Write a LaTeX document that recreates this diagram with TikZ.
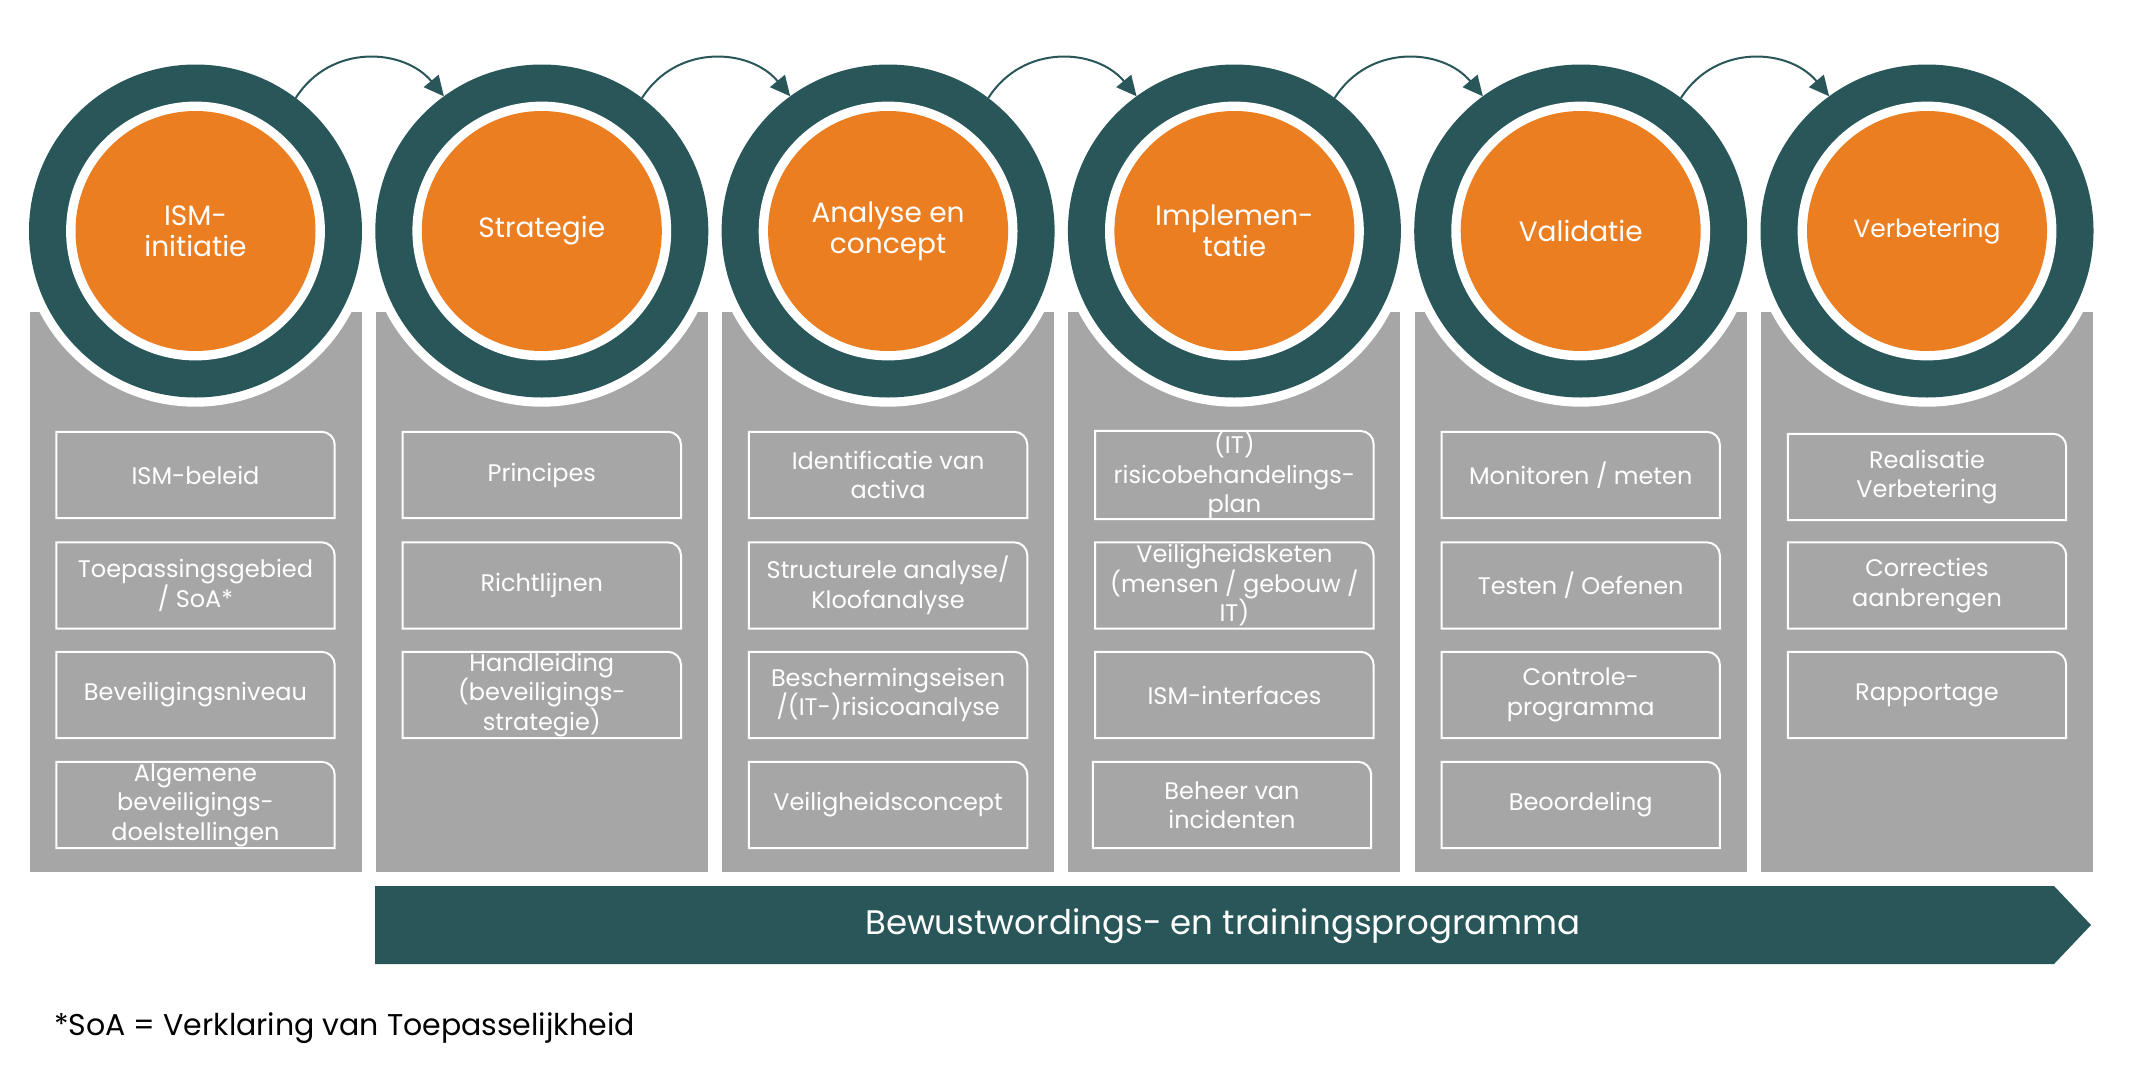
\documentclass[tikz,border=0pt]{standalone}
\usepackage{fontspec}
\setmainfont{Poppins}
\usetikzlibrary{arrows.meta}
\definecolor{dteal}{HTML}{285659}
\definecolor{orng}{HTML}{EC7E22}
\definecolor{gry}{HTML}{A6A6A6}
\tikzset{
 colbg/.style={fill=gry},
 ring/.style={circle, fill=dteal, minimum size=333pt, inner sep=0pt, outer sep=0pt},
 core/.style={circle, fill=orng, minimum size=240pt, inner sep=0pt, text=white, align=center, font=\fontsize{28}{31}\selectfont},
 boxtxt/.style={minimum width=278pt, minimum height=86pt, inner sep=0pt, text=white, align=center, font=\fontsize{24}{29.5}\selectfont},
 boxline/.style={draw=white, line width=2pt},
 flow/.style={draw=dteal, line width=2pt, -{Triangle[length=20pt,width=19pt]}},
}
\newcommand\mybox[4]{%
 \node[boxtxt] (#1) at (#2,#3) {#4};
 \draw[boxline] (#1.south west) -- (#1.north west) -- ([xshift=-13pt]#1.north east) arc[start angle=90,end angle=0,radius=13pt] -- (#1.south east) -- cycle;}
\begin{document}
\begin{tikzpicture}[x=1pt,y=-1pt]
\useasboundingbox (0,0) rectangle (2132,1068);
% gray columns
\foreach \cx in {195.5,541.8,888.1,1234.4,1580.7,1927}{
  \fill[colbg] (\cx-166,311.7) rectangle (\cx+166,871.7);
  \fill[white] (\cx,231) circle[radius=175.7pt];
}
% rings
\node[ring] (r1) at (195.5,231) {};
\node[ring] (r2) at (541.8,231) {};
\node[ring] (r3) at (888.1,231) {};
\node[ring] (r4) at (1234.4,231) {};
\node[ring] (r5) at (1580.7,231) {};
\node[ring] (r6) at (1927,231) {};
\foreach \cx in {195.5,541.8,888.1,1234.4,1580.7,1927}{
  \fill[white] (\cx,231) circle[radius=129.4pt];
}
\node[core] (c1) at (195.5,231) {ISM-\\initiatie};
\node[core] (c2) at (541.8,231) {Strategie};
\node[core] (c3) at (888.1,231) {Analyse en\\concept};
\node[core] (c4) at (1234.4,231) {Implemen-\\tatie};
\node[core] (c5) at (1580.7,231) {Validatie};
\node[core, font=\fontsize{25}{29}\selectfont] (c6) at (1927,231) {Verbetering};
% arrows
\draw[flow] (r1.53) .. controls +(35,-55) and +(-40,-48) .. (r2.126);
\draw[flow] (r2.53) .. controls +(35,-55) and +(-40,-48) .. (r3.126);
\draw[flow] (r3.53) .. controls +(35,-55) and +(-40,-48) .. (r4.126);
\draw[flow] (r4.53) .. controls +(35,-55) and +(-40,-48) .. (r5.126);
\draw[flow] (r5.53) .. controls +(35,-55) and +(-40,-48) .. (r6.126);
% boxes column 1
\mybox{b11}{195.5}{475}{ISM-beleid}
\mybox{b12}{195.5}{585.5}{Toepassingsgebied\\/ SoA*}
\mybox{b13}{195.5}{695}{Beveiligingsniveau}
\mybox{b14}{195.5}{805}{Algemene\\beveiligings-\\doelstellingen}
% column 2
\mybox{b21}{541.8}{475}{Principes}
\mybox{b22}{541.8}{585.5}{Richtlijnen}
\mybox{b23}{541.8}{695}{Handleiding\\(beveiligings-\\strategie)}
% column 3
\mybox{b31}{888.1}{475}{Identificatie van\\activa}
\mybox{b32}{888.1}{585.5}{Structurele analyse/\\Kloofanalyse}
\mybox{b33}{888.1}{695}{Beschermingseisen\\/(IT-)risicoanalyse}
\mybox{b34}{888.1}{805}{Veiligheidsconcept}
% column 4
\mybox{b41}{1234.4}{475}{(IT)\\risicobehandelings-\\plan}
\mybox{b42}{1234.4}{585.5}{Veiligheidsketen\\(mensen / gebouw /\\IT)}
\mybox{b43}{1234.4}{695}{ISM-interfaces}
\mybox{b44}{1232}{805}{Beheer van\\incidenten}
% column 5
\mybox{b51}{1580.7}{475}{Monitoren / meten}
\mybox{b52}{1580.7}{585.5}{Testen / Oefenen}
\mybox{b53}{1580.7}{695}{Controle-\\programma}
\mybox{b54}{1580.7}{805}{Beoordeling}
% column 6
\mybox{b61}{1927}{477}{Realisatie\\Verbetering}
\mybox{b62}{1927}{585.5}{Correcties\\aanbrengen}
\mybox{b63}{1927}{695}{Rapportage}
% bottom bar
\fill[dteal] (375,886) -- (2054,886) -- (2091,925) -- (2054,964) -- (375,964) -- cycle;
\node[text=white, font=\fontsize{34}{38}\selectfont] (bar) at (1223,926) {Bewustwordings- en trainingsprogramma};
% footnote
\node[anchor=base west, inner sep=0pt, font=\fontsize{30}{34}\selectfont] (fn) at (54,1035) {*SoA = Verklaring van Toepasselijkheid};
\end{tikzpicture}
\end{document}
